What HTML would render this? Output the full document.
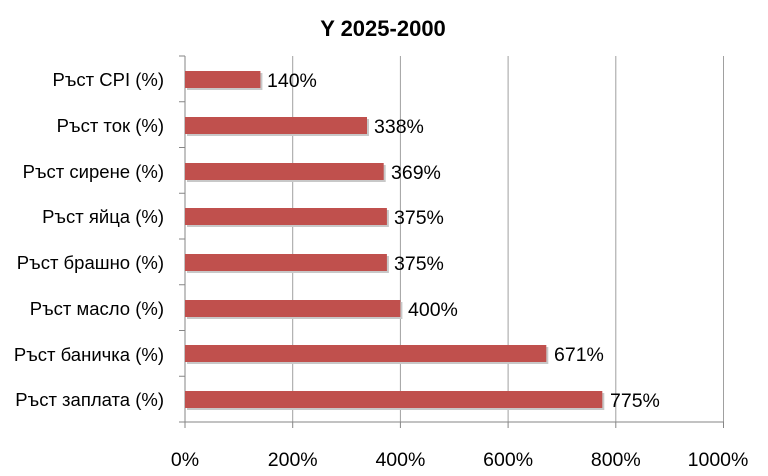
<!DOCTYPE html>
<html><head><meta charset="utf-8"><style>body{margin:0;background:#fff}</style></head><body>
<svg width="768" height="471" xmlns="http://www.w3.org/2000/svg" font-family="Liberation Sans, sans-serif">
<rect width="768" height="471" fill="#fff"/>
<text x="383" y="36" text-anchor="middle" font-size="22" font-weight="bold" fill="#000">Y 2025-2000</text>
<g stroke="#a0a0a0" stroke-width="1">
<line x1="292.7" y1="56" x2="292.7" y2="422"/>
<line x1="400.4" y1="56" x2="400.4" y2="422"/>
<line x1="508.1" y1="56" x2="508.1" y2="422"/>
<line x1="615.8" y1="56" x2="615.8" y2="422"/>
<line x1="723.5" y1="56" x2="723.5" y2="422"/>
</g>
<g stroke="#868686" stroke-width="1">
<line x1="185" y1="56" x2="185" y2="422"/>
<line x1="185" y1="422" x2="724" y2="422"/>
<line x1="179" y1="56" x2="185" y2="56"/>
<line x1="179" y1="101.75" x2="185" y2="101.75"/>
<line x1="179" y1="147.5" x2="185" y2="147.5"/>
<line x1="179" y1="193.25" x2="185" y2="193.25"/>
<line x1="179" y1="239" x2="185" y2="239"/>
<line x1="179" y1="284.75" x2="185" y2="284.75"/>
<line x1="179" y1="330.5" x2="185" y2="330.5"/>
<line x1="179" y1="376.25" x2="185" y2="376.25"/>
<line x1="179" y1="422" x2="185" y2="422"/>
<line x1="185" y1="422" x2="185" y2="428"/>
<line x1="292.7" y1="422" x2="292.7" y2="428"/>
<line x1="400.4" y1="422" x2="400.4" y2="428"/>
<line x1="508.1" y1="422" x2="508.1" y2="428"/>
<line x1="615.8" y1="422" x2="615.8" y2="428"/>
<line x1="723.5" y1="422" x2="723.5" y2="428"/>
</g>
<g font-size="19.5" fill="#000" text-anchor="middle">
<text x="185" y="466">0%</text><text x="292.7" y="466">200%</text><text x="400.4" y="466">400%</text>
<text x="508.1" y="466">600%</text><text x="615.8" y="466">800%</text><text x="718" y="466">1000%</text>
</g>
<g font-size="18.5" fill="#000" text-anchor="end">
<text x="164" y="86">Ръст CPI (%)</text>
<text x="164" y="132">Ръст ток (%)</text>
<text x="164" y="178">Ръст сирене (%)</text>
<text x="164" y="223">Ръст яйца (%)</text>
<text x="164" y="269">Ръст брашно (%)</text>
<text x="164" y="315">Ръст масло (%)</text>
<text x="164" y="361">Ръст баничка (%)</text>
<text x="164" y="406">Ръст заплата (%)</text>
</g>
<g fill="#c8c8c8">
<rect x="187" y="73" width="75.4" height="17"/>
<rect x="187" y="119" width="182" height="17"/>
<rect x="187" y="165" width="198.7" height="17"/>
<rect x="187" y="210" width="201.9" height="17"/>
<rect x="187" y="256" width="201.9" height="17"/>
<rect x="187" y="302" width="215.4" height="17"/>
<rect x="187" y="347" width="361.3" height="17"/>
<rect x="187" y="393" width="417.3" height="17"/>
</g>
<g fill="#c0504d">
<rect x="185" y="71" width="75.4" height="17"/>
<rect x="185" y="117" width="182" height="17"/>
<rect x="185" y="163" width="198.7" height="17"/>
<rect x="185" y="208" width="201.9" height="17"/>
<rect x="185" y="254" width="201.9" height="17"/>
<rect x="185" y="300" width="215.4" height="17"/>
<rect x="185" y="345" width="361.3" height="17"/>
<rect x="185" y="391" width="417.3" height="17"/>
</g>
<g font-size="19.5" fill="#000">
<text x="267" y="87">140%</text>
<text x="374" y="133">338%</text>
<text x="391" y="179">369%</text>
<text x="394" y="224">375%</text>
<text x="394" y="270">375%</text>
<text x="408" y="316">400%</text>
<text x="554" y="361">671%</text>
<text x="610" y="407">775%</text>
</g>
</svg>
</body></html>
